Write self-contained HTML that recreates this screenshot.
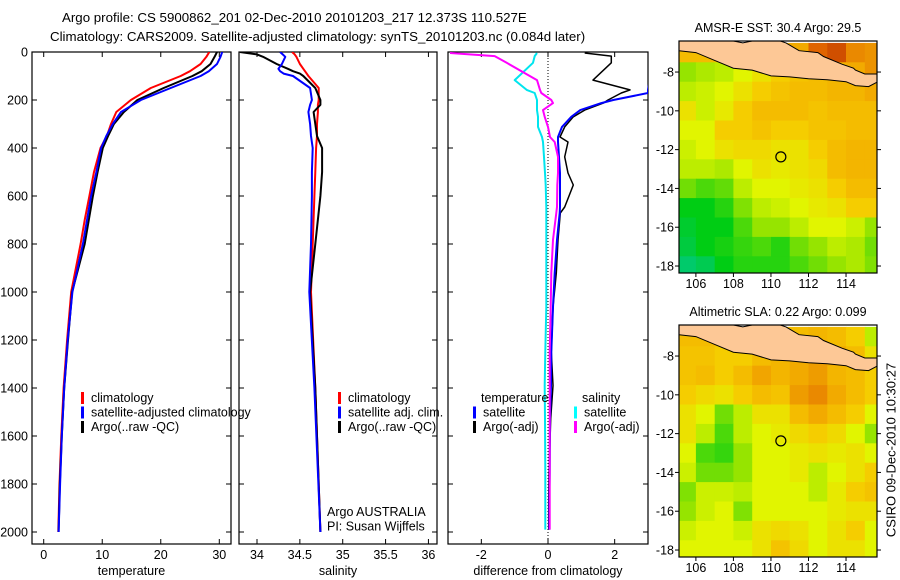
<!DOCTYPE html>
<html><head><meta charset="utf-8">
<style>
body{margin:0;background:#fff;}
svg{display:block;font-family:"Liberation Sans",sans-serif;}
</style></head>
<body>
<svg id="fig" width="900" height="580" viewBox="0 0 900 580" xmlns="http://www.w3.org/2000/svg">
<text x="62" y="22" font-size="13.3">Argo profile: CS 5900862_201 02-Dec-2010 20101203_217 12.373S 110.527E</text>
<text x="50" y="41" font-size="13.3">Climatology: CARS2009. Satellite-adjusted climatology: synTS_20101203.nc (0.084d later)</text>
<text x="892" y="450" font-size="13" transform="rotate(-90 892 450)" text-anchor="middle" dominant-baseline="middle">CSIRO 09-Dec-2010 10:30:27</text>
</svg>
<script>
// ---------- data ----------
const depthsT = [0,20,50,80,100,150,200,250,300,350,400,500,600,700,800,1000,1200,1400,1600,1800,2000];
const tempClim = [28.3,27.8,26.8,25,23.4,18.3,14.9,12.4,11.5,10.8,9.7,8.6,7.8,7,6.3,4.7,4,3.4,3,2.7,2.5];
const tempSat  = [30.5,30.2,29.6,28.2,26.8,21.7,16.6,13.2,11.8,10.7,9.8,9,8.1,7.4,6.7,4.9,4.1,3.5,3.1,2.8,2.55];
const tempArgo = [29.6,29.2,28.5,27,25.4,20.5,16,13.7,12,11,10.1,9.2,8.4,7.7,7,4.85,4.15,3.5,3.1,2.75,2.55];
const depthsS = [0,10,20,50,70,80,90,100,150,200,220,250,300,350,400,500,600,800,1000,1400,2000];
const salClim = [34.41,34.44,34.46,34.50,34.54,34.56,34.58,34.6,34.72,34.72,34.71,34.71,34.70,34.70,34.69,34.68,34.67,34.65,34.63,34.68,34.74];
const salSat  = [34.27,34.30,34.33,34.29,34.25,34.27,34.31,34.42,34.62,34.64,34.62,34.6,34.62,34.63,34.65,34.64,34.64,34.63,34.61,34.67,34.74];
const salArgo = [33.8,34.0,34.07,34.23,34.36,34.42,34.5,34.54,34.68,34.74,34.74,34.66,34.68,34.70,34.76,34.76,34.74,34.68,34.62,34.68,34.74];
const depthsD = [4,17,45,117,158,171,200,213,242,270,312,354,375,437,504,554,646,671,783,921,1063,1250,1390,1528,1754,1875,1990];
const diffTSat  = [3.2,3.2,3.1,3.05,3.0,3.0,1.96,1.6,0.97,0.7,0.42,0.3,0.3,0.33,0.36,0.36,0.36,0.35,0.27,0.2,0.15,0.1,0.09,0.06,0.05,0.04,0.04];
const diffTArgo = [1.1,1.9,1.9,1.35,2.46,2.2,1.8,1.66,1.1,0.76,0.5,0.36,0.6,0.5,0.6,0.76,0.5,0.37,0.3,0.25,0.15,0.1,0.15,0.08,0.03,0.02,0.02];
const diffSSat  = [-0.33,-0.4,-0.45,-1.0,-0.64,-0.4,-0.33,-0.33,-0.33,-0.3,-0.3,-0.18,-0.15,-0.12,-0.09,-0.07,-0.05,-0.05,-0.05,-0.05,-0.05,-0.08,-0.1,-0.09,-0.08,-0.08,-0.08];
const diffSArgo = [-2.94,-1.6,-1.24,-0.33,-0.24,-0.2,0.1,0.15,-0.15,-0.1,0.0,0.06,0.2,0.3,0.3,0.28,0.27,0.25,0.15,0.1,0.08,0.05,0.05,0.05,0.05,0.05,0.05];
const depthTicks = [0,200,400,600,800,1000,1200,1400,1600,1800,2000];
const tempTicks = [0,10,20,30];
const salTicks = [34,34.5,35,35.5,36];
const salTickLabels = ["34","34.5","35","35.5","36"];
const diffTicks = [-2,0,2];
const latTicks = [-8,-10,-12,-14,-16,-18];
const lonTicks = [106,108,110,112,114];
const gridLons = [105.5,106.5,107.5,108.5,109.5,110.5,111.5,112.5,113.5,114.5,115.5];
const gridLats = [-7,-8,-9,-10,-11,-12,-13,-14,-15,-16,-17,-18];
const sstGrid = [
[0.6,0.6,0.6,0.62,0.6,0.62,0.65,0.8,0.85,0.72,0.7],
[0.35,0.38,0.4,0.45,0.5,0.55,0.58,0.6,0.62,0.65,0.7],
[0.4,0.42,0.45,0.5,0.55,0.58,0.6,0.6,0.62,0.62,0.65],
[0.5,0.42,0.48,0.55,0.6,0.6,0.6,0.58,0.6,0.6,0.6],
[0.45,0.45,0.55,0.55,0.58,0.55,0.55,0.58,0.58,0.6,0.6],
[0.42,0.45,0.5,0.52,0.52,0.5,0.5,0.55,0.6,0.62,0.62],
[0.4,0.4,0.38,0.45,0.5,0.48,0.5,0.52,0.6,0.62,0.62],
[0.3,0.25,0.28,0.4,0.45,0.45,0.48,0.5,0.55,0.6,0.6],
[0.15,0.15,0.2,0.32,0.4,0.42,0.45,0.48,0.5,0.55,0.55],
[0.12,0.15,0.15,0.25,0.35,0.35,0.4,0.45,0.45,0.42,0.35],
[0.1,0.15,0.18,0.22,0.25,0.2,0.3,0.35,0.4,0.38,0.3],
[0.05,0.08,0.15,0.2,0.2,0.2,0.25,0.3,0.35,0.38,0.32]];
const slaGrid = [
[0.6,0.6,0.6,0.6,0.6,0.6,0.6,0.62,0.6,0.55,0.4],
[0.58,0.58,0.55,0.55,0.6,0.62,0.65,0.68,0.65,0.6,0.5],
[0.58,0.6,0.55,0.6,0.66,0.62,0.65,0.68,0.62,0.6,0.55],
[0.55,0.52,0.5,0.55,0.6,0.58,0.68,0.72,0.65,0.6,0.55],
[0.5,0.45,0.3,0.4,0.5,0.5,0.6,0.65,0.6,0.55,0.45],
[0.5,0.4,0.25,0.4,0.45,0.48,0.52,0.55,0.52,0.45,0.35],
[0.45,0.25,0.22,0.35,0.45,0.45,0.48,0.5,0.48,0.5,0.45],
[0.42,0.3,0.3,0.35,0.45,0.45,0.48,0.4,0.45,0.5,0.55],
[0.32,0.42,0.42,0.4,0.45,0.45,0.45,0.4,0.48,0.55,0.58],
[0.35,0.42,0.45,0.32,0.45,0.45,0.45,0.45,0.48,0.5,0.5],
[0.42,0.45,0.45,0.42,0.5,0.52,0.5,0.45,0.5,0.55,0.45],
[0.45,0.45,0.45,0.45,0.5,0.58,0.52,0.45,0.5,0.5,0.45]];
const argoLon = 110.527, argoLat = -12.373;
const javaLon = [105.1,106,107,108,109,110,111,112,113,114,114.5,115.2,115.7,115.7,115,114.5,114.4,113.8,112.8,112.5,111.5,110.8,110.5,110,109,108.5,108,105.1];
const javaLat = [-6.9,-7.0,-7.4,-7.8,-7.9,-8.2,-8.25,-8.35,-8.4,-8.5,-8.7,-8.75,-8.5,-8.1,-8.1,-7.9,-7.8,-7.6,-7.2,-7.0,-6.9,-6.5,-6.4,-6.4,-6.4,-6.5,-6.4,-6.4];

// ---------- helpers ----------
const svg = document.getElementById('fig');
const NS = 'http://www.w3.org/2000/svg';
function mk(tag, attrs, parent){const e=document.createElementNS(NS,tag);for(const k in attrs)e.setAttribute(k,attrs[k]);(parent||svg).appendChild(e);return e;}
const PT=52, PB=544;
const yD = d => PT + d*0.24;

function panel(name,x0,x1,xmin,xmax,ticks,labels,xlabel,showDepth){
  const g = mk('g',{});
  
  
  const xs = v => x0 + (v-xmin)/(xmax-xmin)*(x1-x0);
  const box = mk('rect',{x:x0,y:PT,width:x1-x0,height:PB-PT,fill:'none',stroke:'#000','stroke-width':1.2},g);
  
  
  ticks.forEach((t,i)=>{
    const x=xs(t);
    mk('line',{x1:x,x2:x,y1:PB,y2:PB-5,stroke:'#000'},g);
    mk('line',{x1:x,x2:x,y1:PT,y2:PT+5,stroke:'#000'},g);
    const tx = mk('text',{x:x,y:PB+15,'font-size':12.5,'text-anchor':'middle'},g);
    tx.textContent = labels[i];
    
    
  });
  depthTicks.forEach(d=>{
    const y=yD(d);
    mk('line',{x1:x0,x2:x0+5,y1:y,y2:y,stroke:'#000'},g);
    mk('line',{x1:x1,x2:x1-5,y1:y,y2:y,stroke:'#000'},g);
    if(showDepth){
      const tx = mk('text',{x:x0-4,y:y+4.5,'font-size':12.5,'text-anchor':'end'},g);
      tx.textContent = d;
      
      
    }
  });
  const xl = mk('text',{x:(x0+x1)/2,y:575,'font-size':12.5,'text-anchor':'middle'},g);
  xl.textContent = xlabel;
  
  
  return {g,xs,x0,x1};
}
function series(p,name,vals,depths,color,w){
  const cp = 'clip-'+name;
  const c = mk('clipPath',{id:cp},p.g);
  mk('rect',{x:p.x0,y:PT,width:p.x1-p.x0,height:PB-PT},c);
  const pts = vals.map((v,i)=>p.xs(v).toFixed(1)+','+yD(depths[i]).toFixed(1)).join(' ');
  const l = mk('polyline',{points:pts,fill:'none',stroke:color,'stroke-width':w,'clip-path':'url(#'+cp+')','stroke-linejoin':'round'},p.g);
  
  
}
function legend(items,x,y){
  items.forEach((it,i)=>{
    const yy=y+i*14.5;
    if(it.c) mk('rect',{x:x,y:yy-10,width:3,height:12,fill:it.c});
    const t = mk('text',{x:x+(it.c?10:8),y:yy,'font-size':12.5});
    t.textContent = it.t;
    
    
  });
}

// ---------- profile panels ----------
const p1 = panel('temperature-panel',32,231,-2,32,tempTicks,tempTicks.map(String),'temperature',true);
series(p1,'temp-climatology',tempClim,depthsT,'#ff0000',2);
series(p1,'temp-argo',tempArgo,depthsT,'#000000',2);
series(p1,'temp-satellite',tempSat,depthsT,'#0000ff',2);
legend([{t:'climatology',c:'#f00'},{t:'satellite-adjusted climatology',c:'#00f'},{t:'Argo(..raw -QC)',c:'#000'}],81,402);

const p2 = panel('salinity-panel',239,437,33.79,36.1,salTicks,salTickLabels,'salinity',false);
series(p2,'sal-climatology',salClim,depthsS,'#ff0000',2);
series(p2,'sal-argo',salArgo,depthsS,'#000000',2);
series(p2,'sal-satellite',salSat,depthsS,'#0000ff',2);
legend([{t:'climatology',c:'#f00'},{t:'satellite adj. clim.',c:'#00f'},{t:'Argo(..raw -QC)',c:'#000'}],338,402);
legend([{t:'Argo AUSTRALIA'},{t:'PI: Susan Wijffels'}],319,516);

const p3 = panel('difference-panel',448,648,-3,3,diffTicks,diffTicks.map(String),'difference from climatology',false);
const zl = mk('line',{x1:p3.xs(0),x2:p3.xs(0),y1:PT,y2:PB,stroke:'#000','stroke-dasharray':'1,2'},p3.g);


series(p3,'diff-temp-argo',diffTArgo,depthsD,'#000000',1.5);
series(p3,'diff-temp-satellite',diffTSat,depthsD,'#0000ff',2);
series(p3,'diff-sal-satellite',diffSSat,depthsD,'#00e5ee',2);
series(p3,'diff-sal-argo',diffSArgo,depthsD,'#ff00ff',2);
legend([{t:'temperature'},{t:'satellite',c:'#00f'},{t:'Argo(-adj)',c:'#000'}],473,402);
legend([{t:'salinity'},{t:'satellite',c:'#0ff'},{t:'Argo(-adj)',c:'#f0f'}],574,402);

// ---------- maps ----------
const stops=[[0,[0,200,150]],[0.15,[0,205,20]],[0.35,[150,228,0]],[0.45,[225,245,0]],[0.55,[245,205,0]],[0.65,[242,170,0]],[0.8,[224,100,0]],[1,[160,16,0]]];
function cmap(v){for(let i=1;i<stops.length;i++){if(v<=stops[i][0]){const a=stops[i-1],b=stops[i],f=(v-a[0])/(b[0]-a[0]);return 'rgb('+a[1].map((c,k)=>Math.round(c+(b[1][k]-c)*f)).join(',')+')';}}return 'rgb(160,16,0)';}
function map(name,title,grid,top,bottom){
  const L=679,R=877,lonMin=105.1,lonMax=115.65,latTop=-6.4,latBot=-18.36;
  const xs=lo=>L+(lo-lonMin)/(lonMax-lonMin)*(R-L);
  const ys=la=>top+(latTop-la)/(latTop-latBot)*(bottom-top);
  const g=mk('g',{});
  
  
  const cp='clip-'+name;
  const c=mk('clipPath',{id:cp},g);
  mk('rect',{x:L,y:top,width:R-L,height:bottom-top},c);
  const cells=mk('g',{'clip-path':'url(#'+cp+')'},g);
  grid.forEach((row,r)=>row.forEach((v,k)=>{
    const x=xs(gridLons[k]-0.5),y=ys(gridLats[r]+0.5);
    const cell=mk('rect',{x:x.toFixed(1),y:y.toFixed(1),width:(xs(1)-xs(0)+0.5).toFixed(1),height:(ys(-1)-ys(0)+0.5).toFixed(1),fill:cmap(v)},cells);
    
    
  }));
  const land=mk('polygon',{points:javaLon.map((lo,i)=>xs(lo).toFixed(1)+','+ys(javaLat[i]).toFixed(1)).join(' '),fill:'#fdc896',stroke:'#000','stroke-width':1},cells);
  
  
  const fr=mk('rect',{x:L,y:top,width:R-L,height:bottom-top,fill:'none',stroke:'#000','stroke-width':1.2},g);
  
  
  latTicks.forEach(la=>{
    const y=ys(la);
    mk('line',{x1:L,x2:L-4,y1:y,y2:y,stroke:'#000'},g);
    mk('line',{x1:R,x2:R+4,y1:y,y2:y,stroke:'#000'},g);
    const t=mk('text',{x:L-5,y:y+4.5,'font-size':12.5,'text-anchor':'end'},g);
    t.textContent=la;
    
    
  });
  lonTicks.forEach(lo=>{
    const x=xs(lo);
    mk('line',{x1:x,x2:x,y1:bottom,y2:bottom+4,stroke:'#000'},g);
    const t=mk('text',{x:x,y:bottom+15,'font-size':12.5,'text-anchor':'middle'},g);
    t.textContent=lo;
    
    
  });
  const ci=mk('circle',{cx:xs(argoLon),cy:ys(argoLat),r:5,fill:'none',stroke:'#000','stroke-width':1.2},g);
  
  
  const tt=mk('text',{x:(L+R)/2,y:top-9,'font-size':12.5,'text-anchor':'middle'},g);
  tt.textContent=title;
  
  
}
map('sst-map','AMSR-E SST: 30.4 Argo: 29.5',sstGrid,41,273);
map('sla-map','Altimetric SLA: 0.22 Argo: 0.099',slaGrid,325,557);
</script>
</body></html>
